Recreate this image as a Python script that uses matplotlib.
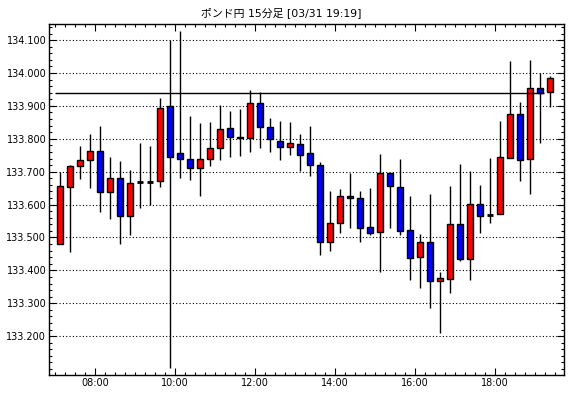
import numpy as np
import matplotlib
matplotlib.use("Agg")
import matplotlib.pyplot as plt
from matplotlib.ticker import MultipleLocator, FixedLocator

plt.rcParams['font.family'] = ['DejaVu Sans', 'Noto Sans CJK JP']

""" 15 min candles, 07:00 - 19:15 """
opens = [133.479, 133.654, 133.718, 133.737, 133.762, 133.637, 133.680, 133.565, 133.669, 133.669,
         133.672, 133.901, 133.756, 133.740, 133.710, 133.740, 133.771, 133.832, 133.807, 133.801,
         133.908, 133.835, 133.792, 133.774, 133.783, 133.756, 133.719, 133.485, 133.543, 133.626,
         133.619, 133.531, 133.517, 133.695, 133.652, 133.522, 133.441, 133.485, 133.369, 133.374,
         133.541, 133.435, 133.603, 133.569, 133.570, 133.743, 133.874, 133.740, 133.953, 133.941]
closes = [133.657, 133.717, 133.737, 133.762, 133.637, 133.680, 133.565, 133.667, 133.669, 133.669,
          133.895, 133.746, 133.740, 133.710, 133.740, 133.771, 133.829, 133.804, 133.801, 133.908,
          133.835, 133.798, 133.774, 133.786, 133.752, 133.719, 133.485, 133.543, 133.625, 133.619,
          133.529, 133.515, 133.695, 133.658, 133.520, 133.438, 133.485, 133.369, 133.376, 133.541,
          133.435, 133.603, 133.566, 133.569, 133.744, 133.874, 133.737, 133.953, 133.940, 133.984]
highs = [133.700, 133.720, 133.778, 133.814, 133.839, 133.745, 133.732, 133.705, 133.787, 133.779,
         133.924, 134.100, 134.127, 133.869, 133.849, 133.851, 133.902, 133.884, 133.890, 133.948,
         133.942, 133.862, 133.854, 133.851, 133.816, 133.839, 133.731, 133.641, 133.647, 133.696,
         133.641, 133.651, 133.753, 133.695, 133.738, 133.626, 133.510, 133.632, 133.396, 133.657,
         133.723, 133.702, 133.660, 133.742, 133.855, 134.037, 133.912, 134.039, 133.999, 133.991]
lows = [133.479, 133.456, 133.677, 133.651, 133.578, 133.556, 133.479, 133.509, 133.590, 133.600,
        133.652, 133.102, 133.681, 133.674, 133.626, 133.718, 133.737, 133.745, 133.748, 133.760,
        133.773, 133.760, 133.736, 133.751, 133.701, 133.687, 133.447, 133.459, 133.514, 133.529,
        133.487, 133.507, 133.396, 133.529, 133.507, 133.370, 133.347, 133.286, 133.210, 133.332,
        133.429, 133.372, 133.514, 133.544, 133.570, 133.743, 133.672, 133.631, 133.788, 133.897]
ref_price = 133.938

price_ticks = [133.2, 133.3, 133.4, 133.5, 133.6, 133.7, 133.8, 133.9, 134.0, 134.1]
hour_labels = ["08:00", "10:00", "12:00", "14:00", "16:00", "18:00"]
hour_pos = [3.5, 11.5, 19.5, 27.5, 35.5, 43.5]

fig = plt.figure(figsize=(5.7, 3.98), dpi=100)
ax = fig.add_axes([49/570, 23/398, 515/570, 351/398])

x = np.arange(len(opens))
o = np.array(opens)
c = np.array(closes)

ax.vlines(x, lows, highs, color='black', linewidth=1, zorder=2)

up = c > o
dn = c < o
eq = c == o
ax.bar(x[up], c[up] - o[up], bottom=o[up], width=0.62, color='#ff0000',
       edgecolor='black', linewidth=1, zorder=3)
ax.bar(x[dn], o[dn] - c[dn], bottom=c[dn], width=0.62, color='#0000ff',
       edgecolor='black', linewidth=1, zorder=3)
ax.hlines(c[eq], x[eq] - 0.33, x[eq] + 0.33, color='black', linewidth=2, zorder=3)

ax.hlines(ref_price, -0.5, 48.4, color='black', linewidth=1, zorder=4)

ax.set_xlim(-1.1, 50.4)
ax.set_ylim(133.082, 134.149)

ax.yaxis.set_major_locator(FixedLocator(price_ticks))
ax.yaxis.set_minor_locator(MultipleLocator(0.02))
ax.yaxis.set_major_formatter(plt.FormatStrFormatter('%.3f'))
ax.xaxis.set_major_locator(FixedLocator(hour_pos))
ax.set_xticklabels(hour_labels)
ax.xaxis.set_minor_locator(FixedLocator(np.arange(-0.5, 50.5, 1)))

ax.grid(True, axis='y', which='major', color='black', linestyle=(0, (1, 2)), linewidth=0.8)
ax.set_axisbelow(True)

ax.tick_params(which='both', direction='in', top=True, right=True, labelsize=7, width=0.8, pad=2)
ax.tick_params(which='major', length=5)
ax.tick_params(which='minor', length=2.5)
for s in ax.spines.values():
    s.set_linewidth(1)

fig.text(0.493, 0.969, "ポンド円 15分足 [03/31 19:19]", ha='center', va='center',
         fontsize=7.8, family=['DejaVu Sans', 'Noto Sans CJK JP'])

fig.savefig("out.png", dpi=100)
